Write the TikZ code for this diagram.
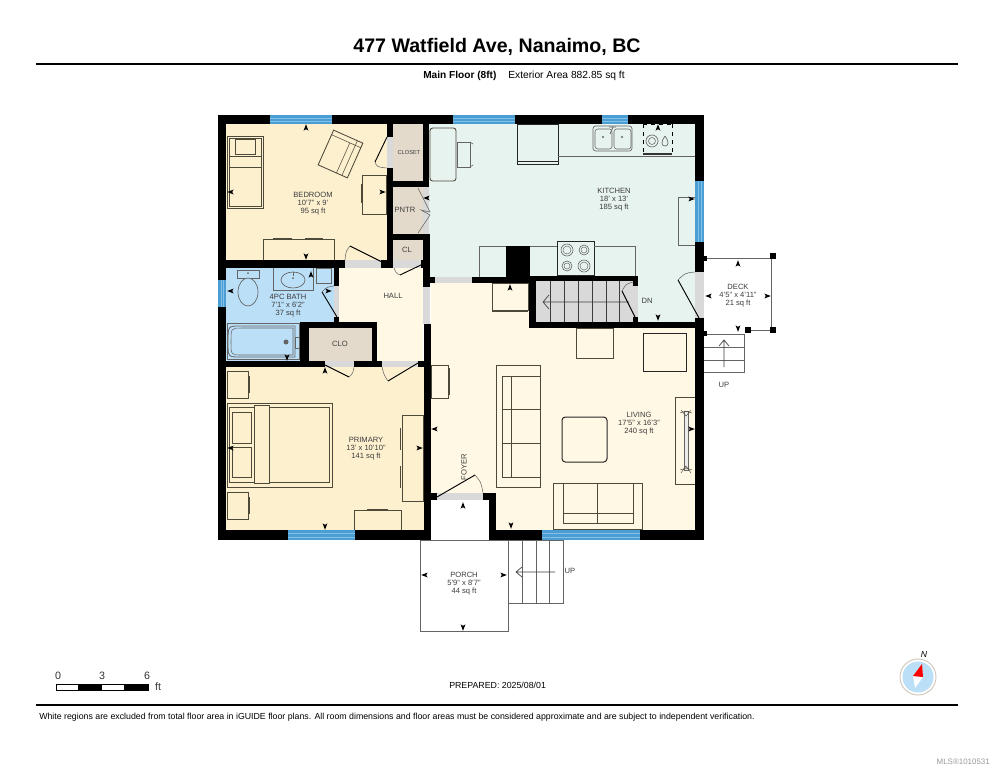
\documentclass[tikz,border=0pt]{standalone}
\usepackage[RGB]{xcolor}
\usepackage{fontspec}
\setmainfont{Liberation Sans}
\definecolor{bedfill}{RGB}{253,240,207}
\definecolor{kitfill}{RGB}{231,243,238}
\definecolor{bathfill}{RGB}{187,223,247}
\definecolor{livfill}{RGB}{255,248,229}
\definecolor{clofill}{RGB}{228,218,203}
\definecolor{winblue}{RGB}{74,158,212}
\definecolor{winlight}{RGB}{130,192,232}
\definecolor{gapgrey}{RGB}{217,217,217}
\definecolor{furn}{RGB}{78,74,58}
\definecolor{edge}{RGB}{100,100,100}
\definecolor{inkgrey}{RGB}{60,60,60}
\newcommand{\wall}[4]{\fill[black] (#1,#2) rectangle (#3,#4);}
\newcommand{\gap}[4]{\fill[gapgrey] (#1,#2) rectangle (#3,#4);}
\newcommand{\room}[5]{\fill[#1] (#2,#3) rectangle (#4,#5);}
\newcommand{\furnbox}[4]{\draw[furn,line width=.65pt] (#1,#2) rectangle (#3,#4);}
\newcommand{\winh}[4]{\fill[winblue] (#1,#3) rectangle (#2,#4);
    \draw[winlight,line width=.6pt] (#1,#3+3)--(#2,#3+3) (#1,#4-3)--(#2,#4-3);}
\newcommand{\winv}[4]{\fill[winblue] (#3,#1) rectangle (#4,#2);
    \draw[winlight,line width=.6pt] (#3+3,#1)--(#3+3,#2) (#4-3,#1)--(#4-3,#2);}
\newcommand{\door}[4]{\draw[black,line width=.7pt] (#1)--(#2);
    \draw[edge,line width=.4pt] (#2) .. controls (#3) .. (#4);}
\newcommand{\dimmark}[3]{\fill[black,shift={(#1,#2)},rotate=#3] (0,-3.8)--(2.4,2.6)--(0,1.2)--(-2.4,2.6)--cycle;}
\tikzset{
  roomtext/.style={font=\fontsize{5.7}{6}\selectfont,text=inkgrey,align=center,inner sep=0pt},
  smalltext/.style={font=\fontsize{4.3}{5}\selectfont,text=inkgrey,inner sep=0pt},
  pagetext/.style={font=\fontsize{6.6}{7}\selectfont,text=black,inner sep=0pt,anchor=west},
  scaletext/.style={font=\fontsize{8}{8}\selectfont,text=black!80,inner sep=0pt},
}
\begin{document}
\begin{tikzpicture}[x=.75pt,y=-.75pt]
\useasboundingbox (0,0) rectangle (994,768);
\fill[white] (0,0) rectangle (994,768);
% page head
\node[font=\fontsize{14.7}{15}\selectfont\bfseries,inner sep=0pt] (title) at (497,47) {477 Watfield Ave, Nanaimo, BC};
\draw[black,line width=1.3pt] (36,64)--(958,64);
\node[pagetext,font=\fontsize{7.6}{8}\selectfont\bfseries] (floor) at (423,76) {Main Floor (8ft)};
\node[pagetext,font=\fontsize{7.7}{8}\selectfont] (area) at (508,76) {Exterior Area 882.85 sq ft};
% rooms
\room{bedfill}{226}{124}{387}{260}
\room{clofill}{393}{124}{423}{181}
\room{clofill}{393}{187}{423}{234}
\room{clofill}{393}{240}{423}{260}
\room{kitfill}{429}{124}{695}{277}
\room{bathfill}{226}{268}{334}{322}
\room{bathfill}{226}{322}{300}{361}
\room{clofill}{309}{328}{372}{361}
\room{livfill}{339}{268}{423}{322}
\room{livfill}{377}{322}{423}{361}
\room{bedfill}{226}{367}{424}{530}
\room{livfill}{431}{283}{695}{530}
\room{kitfill}{638}{277}{695}{322}
\room{white}{431}{500}{489}{540}
% bedroom furniture
\furnbox{227}{136}{263}{208}
\draw[furn,line width=.4pt] (229,138) rectangle (261,206);
\furnbox{235}{139}{255}{154}
\draw[furn,line width=.4pt] (229,156)--(261,156) (229,167)--(261,167);
\begin{scope}[shift={(340.5,154)},rotate=-24]
\draw[furn,line width=.65pt] (-16,-19) rectangle (16,19);
\draw[furn,line width=.4pt] (-16,-14)--(16,-14) (10,-19)--(10,19) (4,-14)--(4,19);
\end{scope}
\furnbox{362}{175}{386}{214}
\draw[furn,line width=.7pt] (361,184)--(361,203);
\furnbox{263}{239}{334}{260}
\draw[furn,line width=.7pt] (273,238)--(292,238) (305,238)--(323,238);
% bath fixtures
\draw[edge,line width=.5pt,fill=bathfill] (237,270) rectangle (259,278);
\draw[edge,line width=.5pt,fill=bathfill] (248,292) ellipse (10 and 14);
\fill[edge] (248,273) circle (1);
\draw[edge,line width=.6pt] (273,268)--(273,290)--(313,290)--(313,268);
\draw[edge,line width=.5pt] (293,280) ellipse (12 and 8);
\fill[edge] (293,278) circle (1);
\draw[edge,line width=.5pt] (293,272)--(293,276);
\draw[edge,line width=.5pt] (316,268) rectangle (331,283);
\draw[edge,line width=.6pt] (227,323) rectangle (299,359);
\draw[edge,line width=.6pt] (295,326)--(240,326) .. controls (228,326) .. (228,342) .. controls (228,357) .. (240,357)--(295,357)--cycle;
\draw[edge,line width=.4pt] (293,328)--(242,328) .. controls (231,328) .. (231,342) .. controls (231,355) .. (242,355)--(293,355)--cycle;
\fill[edge] (286,342) circle (2.5);
\draw[edge,line width=.5pt] (295,337) rectangle (300,348);
% primary furniture
\furnbox{227}{371}{248}{398}
\draw[furn,line width=.5pt] (249,376)--(249,393);
\furnbox{227}{492}{248}{519}
\draw[furn,line width=.5pt] (249,497)--(249,514);
\furnbox{227}{403}{332}{487}
\draw[furn,line width=.4pt] (229,407) rectangle (329,482);
\draw[furn,line width=.4pt,fill=bedfill] (254,405) rectangle (269,483);
\draw[furn,line width=.4pt] (232,412) rectangle (251,443);
\draw[furn,line width=.4pt] (232,447) rectangle (251,477);
\furnbox{402}{415}{423}{501}
\draw[furn,line width=.5pt] (400,428)--(400,450) (400,466)--(400,488);
\furnbox{354}{510}{401}{530}
\draw[furn,line width=.5pt] (367,509)--(388,509);
% kitchen furniture
\draw[furn,line width=.65pt,rounded corners=2pt] (430,128) rectangle (456,181);
\draw[edge,line width=.5pt] (457,142) rectangle (470,167);
\draw[edge,line width=.5pt] (470,142)--(473,144) (470,167)--(473,165);
\draw[black!85,line width=.7pt] (517,124) rectangle (558,164);
\draw[black!85,line width=.4pt] (517,161)--(558,161);
\draw[edge,line width=.5pt] (558,156)--(695,156);
\draw[edge,line width=.5pt,rounded corners=2pt] (593,126) rectangle (632,151);
\draw[edge,line width=.4pt,rounded corners=2pt] (595,129) rectangle (612,149);
\draw[edge,line width=.4pt,rounded corners=2pt] (614,129) rectangle (631,149);
\fill[edge] (603,137) circle (1.1);
\fill[edge] (622,137) circle (1.1);
\draw[edge,line width=.6pt] (610,134)--(613,127) (616,127)--(613,127) (609,127)--(613,127);
\draw[black,line width=.5pt,dashed] (643,124)--(643,154) (672,124)--(672,154) (643,124)--(672,124);
\draw[black!80,line width=.8pt] (643,154)--(672,154);
\draw[edge,line width=.5pt] (652,141) circle (6);
\draw[edge,line width=.4pt] (652,141) circle (3.5);
\draw[edge,line width=.5pt] (665,136) .. controls (661,141) and (661,146) .. (665,146) .. controls (669,146) and (669,141) .. (665,136);
\draw[edge,line width=.5pt] (695,197)--(678,197)--(678,245)--(695,245);
\draw[edge,line width=.5pt] (479,277)--(479,246)--(506,246);
\draw[edge,line width=.5pt] (530,246)--(557,246);
\draw[black!85,line width=.7pt,fill=kitfill] (557,241) rectangle (594,275);
\foreach \x/\y/\r in {567/250/6,584/250/5,567/266/5,584/266/6}{
    \draw[edge,line width=.45pt] (\x,\y) circle (\r);
    \draw[edge,line width=.35pt] (\x,\y) circle (\r-2);
}
\draw[edge,line width=.5pt] (594,246)--(635,246)--(635,276);
% stairs down
\fill[gapgrey] (536,281) rectangle (633,322);
\foreach \x in {550,564,578,592,606,619}{
    \draw[inkgrey,line width=.4pt] (\x,281)--(\x,322);
}
\draw[inkgrey,line width=.5pt] (629,302)--(544,302) (549,295)--(543,302)--(549,309);
% living furniture
\furnbox{492}{283}{528}{310}
\draw[furn,line width=.4pt] (492,311)--(528,311);
\furnbox{576}{328}{613}{358}
\draw[black!85,line width=.75pt] (643,333) rectangle (686,371);
\furnbox{431}{365}{448}{398}
\draw[furn,line width=.5pt] (449,368)--(449,395);
\furnbox{496}{365}{540}{487}
\draw[furn,line width=.4pt] (502,376) rectangle (540,477);
\draw[furn,line width=.4pt] (511,376)--(511,477) (502,409)--(540,409) (502,443)--(540,443);
\draw[black!85,line width=.75pt,rounded corners=2.5pt] (562,417) rectangle (607,462);
\furnbox{553}{483}{642}{529}
\draw[furn,line width=.4pt] (563,483)--(563,523)--(633,523)--(633,483) (563,513)--(633,513) (597,483)--(597,523);
\furnbox{675}{397}{695}{484}
\draw[edge,line width=.4pt,fill=gapgrey!50] (684,411) rectangle (688,470);
\draw[furn,line width=.35pt] (680,413)--(686,411)--(692,413) (680,470)--(686,468)--(692,470) (681,410)--(686,416)--(691,410) (681,473)--(686,466)--(691,473);
% deck and porch
\draw[edge,line width=.6pt] (704,258)--(771,258)--(771,330)--(748,330);
\draw[edge,line width=.6pt] (704,334)--(744,334)--(744,372)--(704,372);
\draw[edge,line width=.4pt] (704,347)--(744,347) (704,360)--(744,360);
\draw[inkgrey,line width=.5pt] (724,367)--(724,341) (719,346)--(724,340)--(729,346);
\draw[edge,line width=.6pt] (420,540)--(420,631)--(508,631)--(508,540);
\draw[edge,line width=.6pt] (489,540)--(563,540)--(563,603)--(508,603);
\foreach \x in {522,536,549}{
    \draw[edge,line width=.4pt] (\x,540)--(\x,603);
}
\draw[inkgrey,line width=.5pt] (555,572)--(516,572) (522,567)--(516,572)--(522,577);
\draw[edge,line width=.6pt] (420,540)--(489,540);
\fill[black] (770,253) rectangle (776,259);
\fill[black] (770,327) rectangle (776,333);
\fill[black] (745,327) rectangle (751,333);
\fill[black] (704,256) rectangle (707,261);
\fill[black] (704,331) rectangle (707,336);
% door openings
\gap{387}{137}{393}{168}
\gap{423}{187}{429}{234}
\gap{345}{260}{381}{268}
\gap{393}{260}{421}{268}
\gap{334}{286}{339}{317}
\gap{423}{287}{430}{324}
\gap{435}{277}{472}{283}
\gap{325}{361}{354}{367}
\gap{382}{361}{418}{367}
\gap{633}{286}{638}{317}
\gap{695}{272}{704}{318}
\gap{437}{493}{483}{500}
% walls
\wall{218}{115}{704}{124}
\wall{218}{115}{226}{540}
\wall{695}{115}{704}{272}
\wall{695}{318}{704}{540}
\wall{218}{530}{431}{540}
\wall{489}{530}{704}{540}
\wall{387}{124}{393}{137}
\wall{387}{168}{393}{260}
\wall{423}{124}{429}{187}
\wall{393}{181}{429}{187}
\wall{393}{234}{429}{240}
\wall{423}{234}{430}{287}
\wall{226}{260}{345}{268}
\wall{381}{260}{393}{268}
\wall{421}{260}{430}{268}
\wall{334}{268}{339}{286}
\wall{334}{317}{339}{322}
\wall{300}{322}{377}{328}
\wall{300}{322}{309}{367}
\wall{372}{322}{377}{361}
\wall{226}{361}{325}{367}
\wall{354}{361}{382}{367}
\wall{418}{361}{431}{367}
\wall{424}{324}{431}{540}
\wall{424}{493}{437}{500}
\wall{483}{493}{496}{500}
\wall{489}{493}{496}{540}
\wall{430}{277}{435}{283}
\wall{472}{277}{530}{283}
\wall{506}{246}{530}{277}
\wall{529}{276}{638}{281}
\wall{529}{276}{536}{328}
\wall{529}{322}{695}{328}
\wall{633}{281}{638}{286}
\wall{633}{317}{638}{322}
% windows
\winh{270}{332}{115}{124}
\winh{453}{515}{115}{124}
\winh{602}{628}{115}{124}
\winh{288}{355}{530}{540}
\winh{542}{640}{530}{540}
\winv{280}{307}{218}{226}
\winv{181}{242}{695}{704}
% doors
\door{387,137}{375,162}{377,167}{387,168}
\draw[edge,line width=.4pt] (418,188)--(430,212)--(421,210)--(430,215)--(418,233);
\door{382,262}{350,246}{346,251}{345,260}
\door{423,264}{400,275}{396,273}{394,268}
\door{337,317}{322,292}{327,287}{334,286}
\door{325,365}{349,377}{353,373}{354,367}
\door{418,363}{388,381}{384,375}{382,367}
\door{699,318}{678,280}{685,273}{695,272}
\door{635,317}{622,291}{626,284}{633,282}
\door{437,497}{475,475}{481,482}{483,493}
% dimension ticks
\foreach \x/\y/\a in {306/128/0,231/192/90,382/192/-90,306/256/180,
    311/275/0,231/291/90,328/291/-90,287/357/180,
    325/371/0,231/448/90,419/448/-90,325/526/180,
    658/128/0,427/198/90,691/199/-90,658/317/180,
    510/288/0,435/429/90,691/429/-90,511/525/180,
    738/264/0,709/296/90,767/296/-90,738/328/180,
    463/506/0,425/575/90,503/575/-90,463/627/180}{
    \dimmark{\x}{\y}{\a}
}
% labels
\node[roomtext] (bedroom) at (313,204) {BEDROOM\\10'7" x 9'\\95 sq ft};
\node[roomtext] (bath) at (288,306) {4PC BATH\\7'1" x 6'2"\\37 sq ft};
\node[roomtext] (primary) at (366,449) {PRIMARY\\13' x 10'10"\\141 sq ft};
\node[roomtext] (kitchen) at (614,200) {KITCHEN\\18' x 13'\\185 sq ft};
\node[roomtext] (living) at (639,424) {LIVING\\17'5" x 16'3"\\240 sq ft};
\node[roomtext] (deck) at (738,296) {DECK\\4'5" x 4'11"\\21 sq ft};
\node[roomtext] (porch) at (464,584) {PORCH\\5'9" x 8'7"\\44 sq ft};
\node[smalltext] (closet) at (409,153) {CLOSET};
\node[roomtext] (pntr) at (405,210) {PNTR};
\node[roomtext] (cl) at (407,250) {CL};
\node[roomtext] (hall) at (393,296) {HALL};
\node[roomtext] (clo) at (340,344) {CLO};
\node[roomtext] (dn) at (647,301) {DN};
\node[roomtext,rotate=90] (foyer) at (464,467) {FOYER};
\node[roomtext] (upa) at (724,385) {UP};
\node[roomtext] (upb) at (570,571) {UP};
% scale bar
\draw[black,line width=.4pt] (56,684) rectangle (148,690);
\fill[black] (78,684) rectangle (102,690);
\fill[black] (124,684) rectangle (148,690);
\node[scaletext] (zero) at (58,676) {0};
\node[scaletext] (three) at (102,676) {3};
\node[scaletext] (six) at (147,676) {6};
\node[scaletext] (feet) at (158,687) {ft};
\node[pagetext] (prepared) at (449,685) {PREPARED: 2025/08/01};
% compass
\draw[clofill!80!gray,line width=.7pt] (918,677) circle (18);
\fill[bathfill] (918,677) circle (15.5);
\fill[white] (913,676)--(923,677)--(915,688)--cycle;
\fill[red] (922,664)--(923,677)--(913,676)--cycle;
\node[font=\fontsize{6.5}{7}\selectfont\itshape,inner sep=0pt] (north) at (924,655) {N};
% page foot
\draw[black,line width=1.1pt] (36,705)--(958,705);
\node[pagetext,font=\fontsize{6.59}{7}\selectfont] (note) at (39,717) {White regions are excluded from total floor area in iGUIDE floor plans. All room dimensions and floor areas must be considered approximate and are subject to independent verification.};
\node[font=\fontsize{5.95}{7}\selectfont,text=gray!80,inner sep=0pt,anchor=east] (mls) at (990,762) {MLS®1010531};
\end{tikzpicture}
\end{document}
